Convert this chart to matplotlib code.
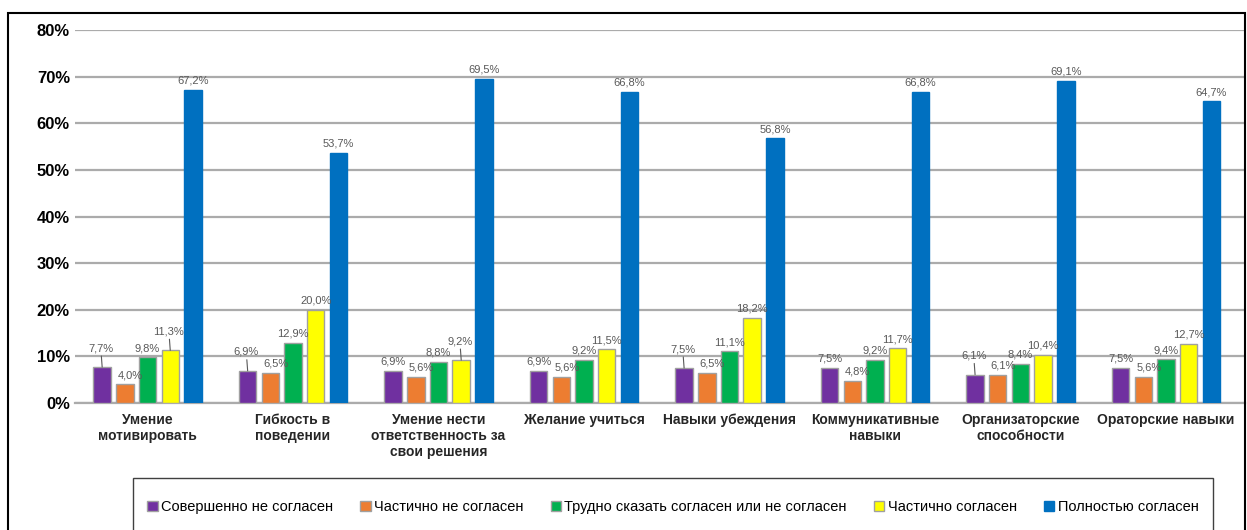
import matplotlib.pyplot as plt
import numpy as np
from matplotlib.patches import Rectangle

plt.rcParams['font.family'] = ['Liberation Sans', 'DejaVu Sans']

categories = ['Умение\nмотивировать', 'Гибкость в\nповедении',
              'Умение нести\nответственность за\nсвои решения', 'Желание учиться',
              'Навыки убеждения', 'Коммуникативные\nнавыки',
              'Организаторские\nспособности', 'Ораторские навыки']
series = ['Совершенно не согласен', 'Частично не согласен',
          'Трудно сказать согласен или не согласен', 'Частично согласен',
          'Полностью согласен']
disagree_full = [7.7, 6.9, 6.9, 6.9, 7.5, 7.5, 6.1, 7.5]
disagree_part = [4.0, 6.5, 5.6, 5.6, 6.5, 4.8, 6.1, 5.6]
hard_to_say = [9.8, 12.9, 8.8, 9.2, 11.1, 9.2, 8.4, 9.4]
agree_part = [11.3, 20.0, 9.2, 11.5, 18.2, 11.7, 10.4, 12.7]
agree_full = [67.2, 53.7, 69.5, 66.8, 56.8, 66.8, 69.1, 64.7]
values = [disagree_full, disagree_part, hard_to_say, agree_part, agree_full]
colors = ['#7030A0', '#ED7D31', '#00B050', '#FFFF00', '#0070C0']
edges = ['#A0A0A0', '#A0A0A0', '#A0A0A0', '#A0A0A0', '#0070C0']

# labels lifted above the bar with a small leader line (series, category)
lifted = {(0, 0), (3, 0), (0, 1), (3, 2), (0, 4), (0, 6)}

fig = plt.figure(figsize=(12.47, 5.30), dpi=100)
ax = fig.add_axes([0.060, 0.2396, 0.938, 0.7038])

x = np.arange(len(categories))
pitch = 0.156
width = 0.12
for k, (vals, c, ec, name) in enumerate(zip(values, colors, edges, series)):
    pos = x + (k - 2) * pitch
    ax.bar(pos, vals, width, color=c, edgecolor=ec, linewidth=1, label=name, zorder=3)
    for i, (px, v) in enumerate(zip(pos, vals)):
        txt = f'{v:.1f}%'.replace('.', ',')
        if (k, i) in lifted:
            ax.annotate(txt, (px, v), xytext=(-1, 10), textcoords='offset points',
                        ha='center', va='bottom', fontsize=8, color='#595959', zorder=4,
                        arrowprops=dict(arrowstyle='-', color='#595959', lw=0.8,
                                        shrinkA=0, shrinkB=0))
        else:
            dx = 4 if k == 1 else 0
            ax.annotate(txt, (px, v), xytext=(dx, 3), textcoords='offset points',
                        ha='center', va='bottom', fontsize=8, color='#595959', zorder=4)

ax.set_xlim(-0.5, 7.54)
ax.set_ylim(0, 80)
ax.set_yticks(range(0, 81, 10))
ax.set_yticklabels([f'{t}%' for t in range(0, 81, 10)], fontsize=12, fontweight='bold')
ax.yaxis.grid(True, color='#ABABAB', linewidth=1.6, zorder=0)
ax.set_xticks(x)
ax.set_xticklabels(categories, fontsize=10, fontweight='bold', color='#262626')
ax.tick_params(length=0)
ax.tick_params(axis='x', pad=7)
for s in ['top', 'right', 'left']:
    ax.spines[s].set_visible(False)
ax.spines['bottom'].set_color('#ABABAB')
ax.spines['bottom'].set_linewidth(1.6)

fig.patches.append(Rectangle((8 / 1247, -0.1), 1237 / 1247, 1.1 - 13 / 530,
                             transform=fig.transFigure, fill=False,
                             edgecolor='black', linewidth=1.5))
fig.patches.append(Rectangle((133 / 1247, -0.1), 1080 / 1247, 0.1 + 52 / 530,
                             transform=fig.transFigure, fill=False,
                             edgecolor='#404040', linewidth=1))
fig.legend(loc='center', bbox_to_anchor=(673 / 1247, 1 - 507 / 530), ncol=5,
           frameon=False, fontsize=10.5, handlelength=0.7, handleheight=0.7,
           handletextpad=0.25, columnspacing=1.85)

fig.savefig('out.png', dpi=100)
